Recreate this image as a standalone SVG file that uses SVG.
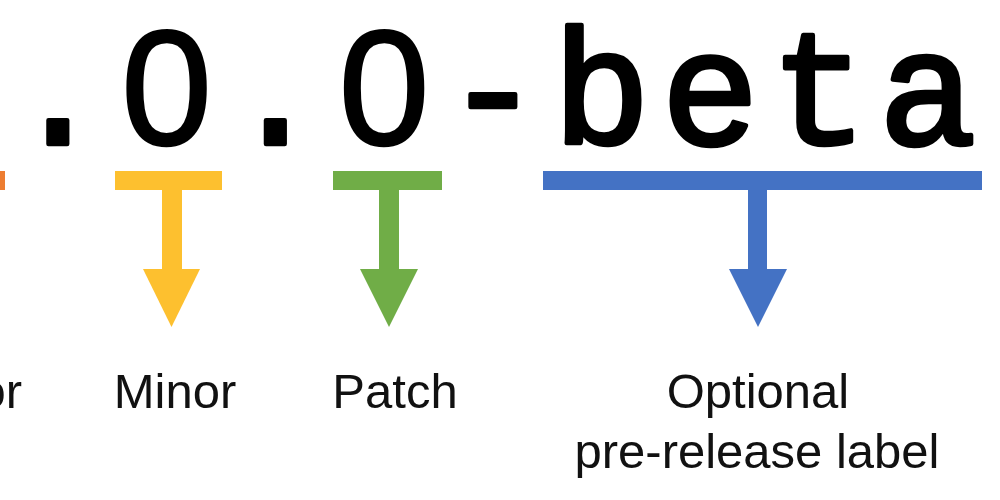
<svg xmlns="http://www.w3.org/2000/svg" width="1000" height="500" viewBox="0 0 1000 500">
  <style>
    .ver { font-family: "Courier New", "Liberation Mono", monospace; font-weight: normal; font-size: 163px; fill: #000; stroke: #000; stroke-width: 4.5; stroke-linejoin: round; text-anchor: middle; }
    .zero { font-family: "Liberation Sans", Arial, sans-serif; stroke-width: 2.5; }
    .lbl { font-family: "Liberation Sans", Arial, sans-serif; font-size: 49px; fill: #111; text-anchor: middle; }
    .major { fill: #ED7D31; }
    .minor { fill: #FDC02F; }
    .patch { fill: #70AD47; }
    .pre { fill: #4472C4; }
  </style>
  <rect width="1000" height="500" fill="#fff"/>
  <g id="version">
    <text class="ver" y="144"><tspan x="-50.7">1</tspan><tspan x="58">.</tspan><tspan class="zero" x="166.7">0</tspan><tspan x="275.4">.</tspan><tspan class="zero" x="384.1">0</tspan><tspan x="492.8">-</tspan><tspan x="601.5">b</tspan><tspan x="710.2">e</tspan><tspan x="818.9">t</tspan><tspan x="927.6">a</tspan></text>
  </g>
  <g id="connectors">
    <g id="arrow-major" class="major">
      <rect x="-110" y="171" width="115" height="19"/>
    </g>
    <g id="arrow-minor" class="minor">
      <rect x="115" y="171" width="107" height="19"/>
      <rect x="162" y="189" width="20" height="81"/>
      <polygon points="143,269 200,269 171.5,327"/>
    </g>
    <g id="arrow-patch" class="patch">
      <rect x="333" y="171" width="109" height="19"/>
      <rect x="379" y="189" width="20" height="81"/>
      <polygon points="360,269 418,269 389,327"/>
    </g>
    <g id="arrow-pre" class="pre">
      <rect x="543" y="171" width="439" height="19"/>
      <rect x="748" y="189" width="19" height="81"/>
      <polygon points="729,269 787,269 758,327"/>
    </g>
  </g>
  <g id="node-major">
    <text class="lbl" x="22" y="408" style="text-anchor:end">Major</text>
  </g>
  <g id="node-minor">
    <text class="lbl" x="175" y="408">Minor</text>
  </g>
  <g id="node-patch">
    <text class="lbl" x="395" y="408">Patch</text>
  </g>
  <g id="node-pre">
    <text class="lbl" x="758" y="408">Optional</text>
    <text class="lbl" x="757" y="468">pre-release label</text>
  </g>
</svg>
